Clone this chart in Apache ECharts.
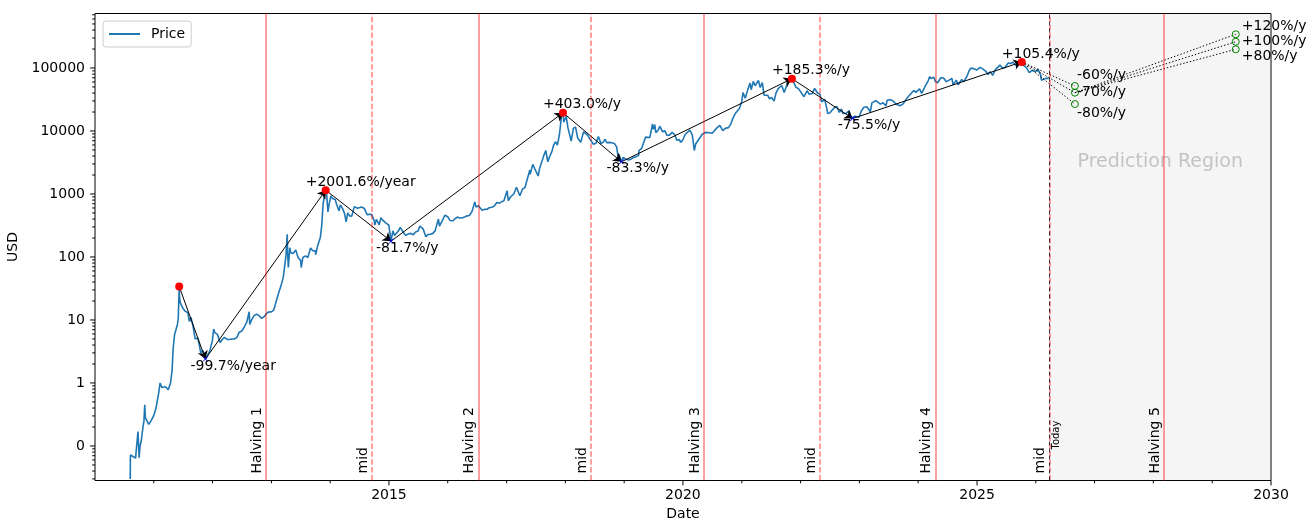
<!DOCTYPE html>
<html>
<head>
<meta charset="utf-8">
<title>Bitcoin price with halving cycles</title>
<script src="https://cdn.jsdelivr.net/npm/echarts@6/dist/echarts.min.js"></script>
<style>
html, body { margin: 0; padding: 0; background: #fff; }
#chart { width: 1309px; height: 519px; }
</style>
</head>
<body>
<div id="chart"></div>
<script>
// ---- Price history (USD) ----
const priceDates = [
  '2010-08-08','2010-08-09','2010-08-25','2010-09-10','2010-09-22','2010-09-25','2010-10-02','2010-10-08','2010-10-15','2010-10-25','2010-11-01','2010-11-06','2010-11-10','2010-11-20','2010-12-01','2010-12-15','2010-12-31',
  '2011-01-15','2011-02-01','2011-02-09','2011-02-20','2011-03-01','2011-03-15','2011-04-01','2011-04-15','2011-04-25','2011-05-01','2011-05-10','2011-05-20','2011-05-28','2011-06-02','2011-06-05','2011-06-08','2011-06-10','2011-06-14','2011-06-20','2011-07-01','2011-07-15','2011-08-01','2011-08-10','2011-08-20','2011-09-01','2011-09-15','2011-10-01','2011-10-10','2011-10-20','2011-11-01','2011-11-10','2011-11-18','2011-11-25','2011-12-05','2011-12-15','2011-12-31',
  '2012-01-08','2012-01-15','2012-02-01','2012-02-17','2012-03-01','2012-03-15','2012-04-01','2012-04-15','2012-05-01','2012-05-15','2012-06-01','2012-06-15','2012-07-01','2012-07-15','2012-08-01','2012-08-16','2012-08-19','2012-09-01','2012-09-15','2012-10-01','2012-10-15','2012-11-01','2012-11-15','2012-12-01','2012-12-15',
  '2013-01-01','2013-01-15','2013-02-01','2013-02-15','2013-03-01','2013-03-15','2013-03-25','2013-04-01','2013-04-09','2013-04-12','2013-04-16','2013-04-25','2013-05-01','2013-05-15','2013-06-01','2013-06-15','2013-07-01','2013-07-05','2013-07-15','2013-08-01','2013-08-15','2013-09-01','2013-09-15','2013-10-01','2013-10-03','2013-10-15','2013-11-01','2013-11-10','2013-11-18','2013-11-22','2013-11-30','2013-12-04','2013-12-10','2013-12-18','2013-12-25',
  '2014-01-05','2014-01-15','2014-02-01','2014-02-10','2014-02-25','2014-03-05','2014-03-20','2014-04-01','2014-04-10','2014-04-20','2014-05-01','2014-05-15','2014-05-31','2014-06-05','2014-06-20','2014-07-01','2014-07-15','2014-08-01','2014-08-18','2014-09-01','2014-09-15','2014-10-01','2014-10-05','2014-10-15','2014-11-01','2014-11-12','2014-11-25','2014-12-10','2014-12-31',
  '2015-01-14','2015-01-25','2015-02-05','2015-02-15','2015-03-01','2015-03-12','2015-04-01','2015-04-15','2015-05-01','2015-05-15','2015-06-01','2015-06-15','2015-07-01','2015-07-12','2015-08-01','2015-08-18','2015-09-01','2015-09-15','2015-10-01','2015-10-15','2015-11-04','2015-11-11','2015-11-25','2015-12-15',
  '2016-01-01','2016-01-15','2016-02-01','2016-02-15','2016-03-01','2016-03-15','2016-04-01','2016-04-15','2016-05-01','2016-05-15','2016-05-31','2016-06-17','2016-06-25','2016-07-09','2016-07-20','2016-08-02','2016-08-15','2016-09-01','2016-09-15','2016-10-01','2016-10-15','2016-11-01','2016-11-15','2016-12-01','2016-12-15',
  '2017-01-04','2017-01-11','2017-01-25','2017-02-15','2017-03-03','2017-03-24','2017-04-10','2017-04-25','2017-05-10','2017-05-25','2017-05-27','2017-06-12','2017-06-25','2017-07-16','2017-07-25','2017-08-10','2017-08-20','2017-09-01','2017-09-14','2017-09-25','2017-10-10','2017-10-20','2017-11-01','2017-11-12','2017-11-25','2017-12-07','2017-12-17','2017-12-22','2017-12-31',
  '2018-01-06','2018-01-17','2018-01-28','2018-02-06','2018-02-20','2018-03-05','2018-03-18','2018-04-06','2018-04-24','2018-05-05','2018-05-20','2018-06-01','2018-06-24','2018-07-10','2018-07-25','2018-08-10','2018-08-25','2018-09-05','2018-09-15','2018-10-01','2018-10-15','2018-11-01','2018-11-15','2018-11-25','2018-12-01','2018-12-15','2018-12-25',
  '2019-01-10','2019-01-28','2019-02-15','2019-02-28','2019-03-15','2019-04-01','2019-04-03','2019-04-20','2019-05-01','2019-05-14','2019-05-25','2019-06-10','2019-06-26','2019-07-02','2019-07-10','2019-07-17','2019-08-01','2019-08-10','2019-08-28','2019-09-10','2019-09-24','2019-10-10','2019-10-22','2019-10-26','2019-11-10','2019-11-25','2019-12-10','2019-12-18','2019-12-31',
  '2020-01-15','2020-02-13','2020-02-28','2020-03-08','2020-03-12','2020-03-20','2020-04-01','2020-04-29','2020-05-10','2020-05-20','2020-06-01','2020-06-15','2020-07-01','2020-07-27','2020-08-17','2020-09-05','2020-09-20','2020-10-10','2020-10-25','2020-11-05','2020-11-20','2020-12-01','2020-12-17','2020-12-31',
  '2021-01-08','2021-01-22','2021-02-08','2021-02-21','2021-02-28','2021-03-13','2021-03-25','2021-04-14','2021-04-25','2021-05-08','2021-05-19','2021-05-25','2021-06-10','2021-06-22','2021-07-05','2021-07-20','2021-08-01','2021-08-15','2021-09-06','2021-09-21','2021-10-05','2021-10-20','2021-11-01','2021-11-08','2021-11-20','2021-12-04','2021-12-20',
  '2022-01-01','2022-01-22','2022-02-10','2022-02-24','2022-03-15','2022-03-29','2022-04-15','2022-05-01','2022-05-12','2022-05-31','2022-06-13','2022-06-18','2022-07-01','2022-07-30','2022-08-14','2022-08-30','2022-09-12','2022-09-20','2022-10-10','2022-10-29','2022-11-09','2022-11-21','2022-12-05','2022-12-30',
  '2023-01-14','2023-01-29','2023-02-16','2023-03-10','2023-03-20','2023-04-13','2023-04-25','2023-05-12','2023-05-28','2023-06-15','2023-06-23','2023-07-13','2023-08-01','2023-08-17','2023-09-11','2023-09-30','2023-10-23','2023-11-10','2023-12-05','2023-12-18',
  '2024-01-10','2024-01-23','2024-02-15','2024-03-05','2024-03-13','2024-03-20','2024-04-08','2024-04-17','2024-05-01','2024-05-21','2024-06-07','2024-06-24','2024-07-05','2024-07-29','2024-08-05','2024-08-25','2024-09-06','2024-09-27','2024-10-10','2024-10-29','2024-11-05','2024-11-13','2024-11-22','2024-12-05','2024-12-16','2024-12-30',
  '2025-01-20','2025-02-03','2025-02-25','2025-03-10','2025-03-24','2025-04-08','2025-04-25','2025-05-12','2025-05-22','2025-06-05','2025-06-22','2025-07-14','2025-07-28','2025-08-02','2025-08-13','2025-09-01','2025-09-18','2025-09-25','2025-10-06','2025-10-10','2025-10-20','2025-11-04','2025-11-21','2025-12-10','2025-12-31',
  '2026-01-14','2026-01-31','2026-02-05','2026-02-20','2026-03-10','2026-03-22'
];
const priceValues = [
  0.03,0.072,0.068,0.064,0.063,0.17,0.065,0.1,0.12,0.19,0.25,0.45,0.28,0.28,0.22,0.25,0.3,
  0.4,0.7,1.0,0.85,0.9,0.87,0.78,1.0,1.6,3.4,5.8,7.2,8.4,10.6,18,34,23,19,17.5,15.4,13.8,13,9.5,11,8.2,5,5.2,4.1,3.0,3.3,2.9,2.4,2.6,2.9,3.2,4.7,
  7.2,6.3,5.9,4.4,4.9,5.3,4.9,4.9,5.0,5.0,5.3,6.4,6.7,7.6,9.3,13.5,8.5,10.2,11.7,12.4,11.8,10.6,11.2,12.6,13.5,
  13.4,14.3,20.4,27,34.5,47,74,104,230,110,68,140,117,114,129,99,88,68,98,104,98,139,126,125,109,150,206,330,700,800,1120,1151,980,520,680,
  930,850,820,680,540,670,580,480,360,500,450,445,630,660,595,640,620,590,470,475,475,380,320,395,325,420,380,350,320,
  178,260,220,235,260,295,245,220,232,237,225,250,258,310,280,210,228,230,237,262,400,310,365,460,
  435,380,375,405,430,415,418,430,450,455,530,750,620,650,665,550,570,572,605,615,640,730,710,755,780,
  1130,780,895,1010,1280,935,1200,1260,1750,2400,2050,2950,2500,1930,2570,3400,4100,4900,3250,3900,4800,6000,6750,5950,8800,16500,19500,13800,13900,
  17100,11200,11700,6900,11100,11500,7800,6600,9700,9800,8500,7500,6150,6400,8200,6300,6700,7400,6500,6600,6500,6350,5600,3800,4200,3240,3800,
  3600,3450,3600,3800,3900,4100,4900,5300,5400,8000,8000,7900,12900,10600,12600,9400,10400,11900,9700,10100,8500,8600,8200,9500,8800,7100,7300,6600,7200,
  8800,10300,8700,8100,4900,6200,6600,8800,8600,9500,10200,9400,9200,11000,12300,10100,11000,11300,13000,15600,18700,19700,22800,29000,
  40700,33000,46200,57500,45200,61200,52300,63500,49000,58800,37000,38000,37000,32500,34000,29800,39800,47000,52700,40700,51500,66000,61000,67600,58600,49400,46700,
  47700,35000,43500,38300,39300,47400,40500,38400,29000,31800,22500,19000,19300,23600,24400,19800,22400,18900,19100,20800,15900,15800,17100,16500,
  20900,23800,24300,20200,28000,30400,28300,26700,28000,25100,30700,31500,29700,26600,25200,27000,33000,37300,44000,41000,
  46600,39500,51900,63800,73100,67900,71600,61300,58300,70100,69400,60300,56700,68300,54000,64200,53900,65800,60600,72700,69500,90500,98900,98800,106100,92800,
  102200,97700,88700,78600,87500,76300,94700,102800,111700,101500,100900,119800,118000,112500,123300,109200,117100,109000,124700,113200,110600,101500,84500,92000,87500,
  96000,78000,64000,67000,69000,68000
];

// ---- Cycle tops and bottoms ----
const peakDates = ['2011-06-08', '2013-12-04', '2017-12-17', '2021-11-08', '2025-10-06'];
const peakValues = [34, 1151, 19500, 67600, 124700];
const troughDates = ['2011-11-18', '2015-01-14', '2018-12-15', '2022-11-21'];
const troughValues = [2.4, 178, 3240, 15800];
const riseLabels = ['+2001.6%/year', '+403.0%/y', '+185.3%/y', '+105.4%/y'];
const fallLabels = ['-99.7%/year', '-81.7%/y', '-83.3%/y', '-75.5%/y'];

// ---- Halving dates and cycle midpoints ----
const halvingDates = ['2012-11-28', '2016-07-09', '2020-05-11', '2024-04-20', '2028-03-07'];
const halvingNames = ['Halving 1', 'Halving 2', 'Halving 3', 'Halving 4', 'Halving 5'];
const midDates = ['2014-09-18', '2018-06-10', '2022-05-01', '2026-03-27'];
const todayDate = '2026-03-27';

// ---- Projection scenarios ----
const bottomDate = '2026-09-01';
const bottomValues = [51800, 40600, 26800];
const bottomLabels = ['-60%/y', '-70%/y', '-80%/y'];
const topDate = '2029-05-27';
const topValues = [343000, 261000, 198000];
const topLabels = ['+120%/y', '+100%/y', '+80%/y'];

// ---- Axes ----
const xLabelYears = [2015, 2020, 2025, 2030];
const yMajorTicks = [0.1, 1, 10, 100, 1000, 10000, 100000];

const X_MIN = '2010-01-01';
const X_MAX = '2030-01-01';
const Y_MIN = 0.0283;
const Y_MAX = 733000;
const FIVE_YEARS = 5 * 365.25 * 24 * 3600 * 1000;
const FONT = 'DejaVu Sans';
const HALVING_RED = 'rgba(255,0,0,0.5)';

// tick marks: [x, y, kind]  kind 0 = y major, 1 = y minor, 2 = x major, 3 = x minor
const tickMarks = [];
yMajorTicks.forEach(v => tickMarks.push([X_MIN, v, 0]));
for (let e = -2; e <= 5; e++) {
  for (let m = 2; m <= 9; m++) {
    const v = m * Math.pow(10, e);
    if (v > Y_MIN && v < Y_MAX) tickMarks.push([X_MIN, v, 1]);
  }
}
for (let yr = 2011; yr <= 2030; yr++) {
  tickMarks.push([yr + '-01-01', Y_MIN, xLabelYears.indexOf(yr) >= 0 ? 2 : 3]);
}

function renderTick(params, api) {
  const p = api.coord([api.value(0), api.value(1)]);
  const kind = api.value(2);
  const len = (kind === 0 || kind === 2) ? 4.9 : 2.8;
  const shape = kind < 2
    ? { x1: p[0] - len, y1: p[1], x2: p[0], y2: p[1] }
    : { x1: p[0], y1: p[1], x2: p[0], y2: p[1] + len };
  return { type: 'line', shape: shape, style: { stroke: '#000', lineWidth: 1 } };
}

const priceData = priceDates.map((d, i) => [d, priceValues[i]]);

const arrowData = [];
for (let i = 0; i < troughDates.length; i++) {
  arrowData.push({ coords: [[peakDates[i], peakValues[i]], [troughDates[i], troughValues[i]]] });
  arrowData.push({ coords: [[troughDates[i], troughValues[i]], [peakDates[i + 1], peakValues[i + 1]]] });
}

const lastPeak = [peakDates[peakDates.length - 1], peakValues[peakValues.length - 1]];
const projLines = [];
bottomValues.forEach(v => projLines.push({ coords: [lastPeak, [bottomDate, v]] }));
topValues.forEach(v => projLines.push({ coords: [[bottomDate, bottomValues[1]], [topDate, v]] }));

const baseText = { fontFamily: FONT, fontSize: 14, color: '#000', opacity: 1, textBorderWidth: 0, textBorderColor: 'transparent' };

const vLines = [];
halvingDates.forEach((d, i) => vLines.push({
  xAxis: d,
  lineStyle: { color: HALVING_RED, width: 1.5, type: 'solid' },
  label: Object.assign({ show: true, formatter: halvingNames[i], position: 'insideStartTop', distance: [7, 2] }, baseText)
}));
midDates.forEach(d => vLines.push({
  xAxis: d,
  lineStyle: { color: HALVING_RED, width: 1.5, type: [5.5, 2.4] },
  label: Object.assign({ show: true, formatter: 'mid', position: 'insideStartTop', distance: [7, 2] }, baseText)
}));
vLines.push({
  xAxis: todayDate,
  lineStyle: { color: 'rgba(0,0,0,0.75)', width: 1, type: [4, 3] },
  label: { show: true, formatter: 'Today', position: 'insideStartBottom', distance: [31, 2], fontFamily: FONT, fontSize: 10, color: '#000' }
});

const bottomOffsets = [[2, -11], [2, 0], [2, 9]];
const topOffsets = [[6, -8], [6, 0], [6, 7]];
const projPoints = [];
bottomValues.forEach((v, i) => projPoints.push({
  value: [bottomDate, v],
  label: { show: true, formatter: bottomLabels[i], offset: bottomOffsets[i] }
}));
topValues.forEach((v, i) => projPoints.push({
  value: [topDate, v],
  label: { show: true, formatter: topLabels[i], offset: topOffsets[i] }
}));

const chart = echarts.init(document.getElementById('chart'), null, { renderer: 'canvas' });

chart.setOption({
  animation: false,
  backgroundColor: '#fff',
  textStyle: { fontFamily: FONT },
  grid: {
    left: 95, right: 38, top: 13.5, bottom: 38.5,
    show: true, borderColor: '#000', borderWidth: 1, backgroundColor: 'transparent',
    outerBoundsMode: 'none'
  },
  legend: {
    data: ['Price'],
    left: 103, top: 21,
    itemWidth: 31, itemHeight: 14,
    itemStyle: { opacity: 0 },
    padding: [6, 6, 6, 5],
    backgroundColor: 'rgba(255,255,255,0.8)',
    borderColor: '#cccccc', borderWidth: 1, borderRadius: 3,
    textStyle: { fontFamily: FONT, fontSize: 14, color: '#000', padding: [0, 0, 0, 6], lineHeight: 14 }
  },
  xAxis: {
    type: 'time',
    min: X_MIN, max: X_MAX,
    minInterval: FIVE_YEARS, maxInterval: FIVE_YEARS,
    axisLine: { show: false },
    axisTick: { show: false },
    splitLine: { show: false },
    axisLabel: {
      showMinLabel: false,
      showMaxLabel: true,
      formatter: function (v) {
        const y = new Date(v).getFullYear();
        return xLabelYears.indexOf(y) >= 0 ? String(y) : '';
      },
      fontFamily: FONT, fontSize: 14, color: '#000', margin: 8
    },
    name: 'Date', nameLocation: 'middle', nameGap: 24,
    nameTextStyle: { fontFamily: FONT, fontSize: 14, color: '#000' }
  },
  yAxis: {
    type: 'log', logBase: 10,
    min: Y_MIN, max: Y_MAX,
    axisLine: { show: false },
    axisTick: { show: false },
    splitLine: { show: false },
    minorTick: { show: false },
    axisLabel: {
      showMinLabel: false, showMaxLabel: false,
      formatter: v => (v < 0.5 ? '0' : String(Math.round(v))),
      fontFamily: FONT, fontSize: 14, color: '#000', margin: 10
    },
    name: 'USD', nameLocation: 'middle', nameGap: 66, nameRotate: 90,
    nameTextStyle: { fontFamily: FONT, fontSize: 14, color: '#000' }
  },
  series: [
    {
      name: 'Price',
      type: 'line',
      data: priceData,
      symbol: 'none',
      showSymbol: false,
      lineStyle: { color: '#1f77b4', width: 1.6 },
      itemStyle: { color: '#1f77b4' },
      silent: true,
      z: 2,
      markArea: {
        silent: true,
        itemStyle: { color: 'rgba(128,128,128,0.08)' },
        label: {
          show: true, position: 'insideTop', distance: 139,
          fontFamily: FONT, fontSize: 19, color: 'rgba(120,120,120,0.4)'
        },
        data: [[{ name: 'Prediction Region', xAxis: todayDate }, { xAxis: X_MAX }]]
      },
      markLine: {
        silent: true,
        symbol: ['none', 'none'],
        animation: false,
        data: vLines
      }
    },
    {
      name: 'ticks',
      type: 'custom',
      renderItem: renderTick,
      data: tickMarks,
      encode: { x: 0, y: 1 },
      clip: false,
      silent: true,
      z: 10
    },
    {
      name: 'cycle arrows',
      type: 'lines',
      coordinateSystem: 'cartesian2d',
      data: arrowData,
      symbol: ['none', 'arrow'],
      symbolSize: [5, 8],
      symbolOffset: [0, 4],
      lineStyle: { color: '#000', width: 1, opacity: 1 },
      silent: true,
      z: 4
    },
    {
      name: 'projection lines',
      type: 'lines',
      coordinateSystem: 'cartesian2d',
      data: projLines,
      symbol: ['none', 'none'],
      lineStyle: { color: '#000', width: 1, opacity: 1, type: [1.4, 2] },
      silent: true,
      z: 4
    },
    {
      name: 'tops',
      type: 'scatter',
      data: peakDates.map((d, i) => ({
        value: [d, peakValues[i]],
        label: i > 0 ? { show: true, formatter: riseLabels[i - 1] } : { show: false }
      })),
      symbol: 'circle',
      symbolSize: 8,
      itemStyle: { color: '#ff0000', opacity: 1 },
      label: Object.assign({ position: 'inside', align: 'left', verticalAlign: 'middle', offset: [-20, -8] }, baseText),
      silent: true,
      z: 6
    },
    {
      name: 'bottoms',
      type: 'scatter',
      data: troughDates.map((d, i) => ({
        value: [d, troughValues[i]],
        label: { show: true, formatter: fallLabels[i] }
      })),
      symbol: 'path://M0,0 L10,10 M10,0 L0,10',
      symbolSize: 5,
      itemStyle: { color: 'none', borderColor: '#0000ff', borderWidth: 1, opacity: 1 },
      label: Object.assign({ position: 'inside', align: 'left', verticalAlign: 'middle', offset: [-15, 7] }, baseText),
      silent: true,
      z: 6
    },
    {
      name: 'projection',
      type: 'scatter',
      data: projPoints,
      symbol: 'circle',
      symbolSize: 7,
      itemStyle: { color: 'rgba(0,0,0,0)', borderColor: '#008000', borderWidth: 1, opacity: 1 },
      label: Object.assign({ position: 'inside', align: 'left', verticalAlign: 'middle' }, baseText),
      silent: true,
      z: 6
    }
  ]
});
</script>
</body>
</html>
